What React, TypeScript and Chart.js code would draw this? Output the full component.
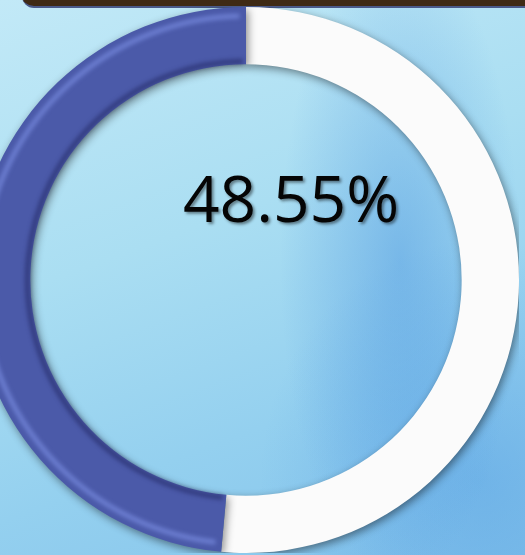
import React, { useEffect, useRef } from "react";
import { Chart, registerables } from "chart.js";

Chart.register(...registerables);

const labels = ["Remaining", "Achieved"];
const values = [51.45, 48.55];
const centerLabel = "48.55%";
const segmentColors = ["#fbfbfb", "#4b5aa9"];

export default function App() {
  const ref = useRef<HTMLCanvasElement | null>(null);

  useEffect(() => {
    if (!ref.current) return;
    const shadowPlugin = {
      id: "ringShadow",
      beforeDatasetDraw(chart: any) {
        const ctx = chart.ctx;
        ctx.save();
        ctx.shadowColor = "rgba(0,0,0,0.45)";
        ctx.shadowBlur = 8;
        ctx.shadowOffsetX = 2;
        ctx.shadowOffsetY = 3;
      },
      afterDatasetDraw(chart: any) {
        chart.ctx.restore();
        const meta = chart.getDatasetMeta(0);
        const arc = meta.data[1];
        if (!arc) return;
        const ctx = chart.ctx;
        const { x, y, outerRadius, innerRadius, startAngle, endAngle } = arc.getProps(
          ["x", "y", "outerRadius", "innerRadius", "startAngle", "endAngle"],
          true
        );
        ctx.save();
        ctx.filter = "blur(2px)";
        ctx.strokeStyle = "rgba(130,150,235,0.6)";
        ctx.lineWidth = 5;
        ctx.beginPath();
        ctx.arc(x, y, outerRadius - 9, startAngle + 0.025, endAngle - 0.025);
        ctx.stroke();
        ctx.strokeStyle = "rgba(25,30,85,0.5)";
        ctx.lineWidth = 5;
        ctx.beginPath();
        ctx.arc(x, y, innerRadius + 3, startAngle + 0.015, endAngle - 0.015);
        ctx.stroke();
        ctx.restore();
      },
      afterDraw(chart: any) {
        const meta = chart.getDatasetMeta(0);
        const arc = meta.data[0];
        if (!arc) return;
        const ctx = chart.ctx;
        ctx.save();
        ctx.font = '64px "Open Sans"';
        ctx.textAlign = "center";
        ctx.textBaseline = "middle";
        ctx.shadowColor = "rgba(0,0,0,0.45)";
        ctx.shadowBlur = 3;
        ctx.shadowOffsetX = 2;
        ctx.shadowOffsetY = 2;
        ctx.fillStyle = "#050505";
        ctx.fillText(centerLabel, arc.x + 45, arc.y - 76);
        ctx.restore();
      },
    };

    const chart = new Chart(ref.current, {
      type: "doughnut",
      data: {
        labels,
        datasets: [
          {
            data: values,
            backgroundColor: segmentColors,
            borderWidth: 0,
          },
        ],
      },
      options: {
        responsive: false,
        animation: false,
        cutout: "79%",
        layout: { padding: 0 },
        plugins: { legend: { display: false }, tooltip: { enabled: false } },
      },
      plugins: [shadowPlugin],
    });
    return () => chart.destroy();
  }, []);

  return (
    <div
      style={{
        position: "fixed",
        left: 0,
        top: 0,
        width: 525,
        height: 555,
        overflow: "hidden",
        background:
          "radial-gradient(ellipse 120px 320px at 400px 260px, rgba(70,145,222,0.45), rgba(70,145,222,0) 100%), radial-gradient(ellipse 220px 240px at 480px 480px, rgba(80,155,226,0.45), rgba(80,155,226,0) 100%), linear-gradient(160deg, #c2e9f7 0%, #aadef2 40%, #94d0ef 70%, #84c3eb 100%)",
      }}
    >
      <div
        style={{
          position: "absolute",
          left: 22,
          top: -10,
          width: 520,
          height: 16,
          background: "#3f2a15",
          borderBottomLeftRadius: 12,
          borderBottom: "2px solid #4a5a8a",
        }}
      />
      <canvas
        ref={ref}
        width={546}
        height={546}
        style={{ position: "absolute", left: -27, top: 7, width: 546, height: 546 }}
      />
    </div>
  );
}
